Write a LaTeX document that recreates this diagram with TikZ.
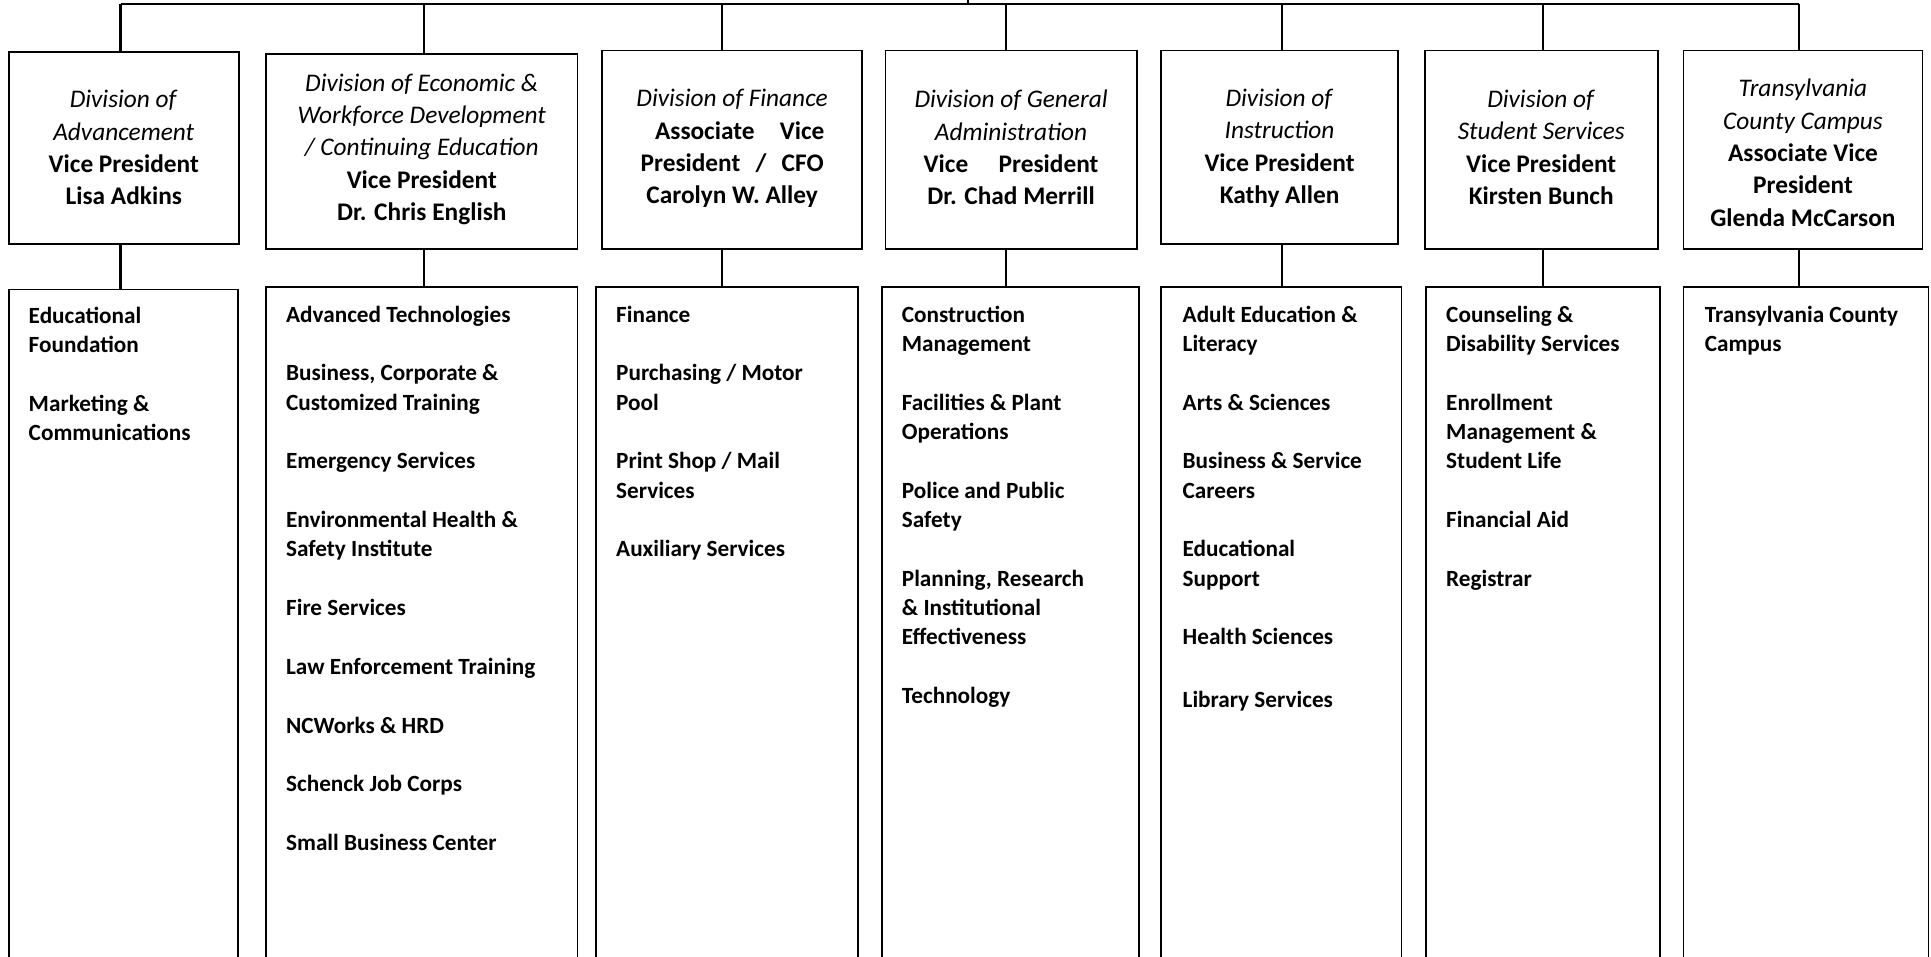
\documentclass[tikz,border=0pt]{standalone}
\usepackage{fontspec}
\setmainfont{Carlito}
\usetikzlibrary{fit}
\begin{document}
\begin{tikzpicture}[x=0.5833pt,y=-0.5833pt,
  headbox/.style={draw, line width=0.85pt, inner sep=0pt},
  headtext/.style={inner sep=0pt, align=center, font=\fontsize{12}{15.3}\selectfont},
  subbox/.style={draw, line width=0.85pt, inner sep=0pt},
  items/.style={anchor=north west, inner sep=0pt, align=left, font=\bfseries\fontsize{11}{13.9}\selectfont},
  conn/.style={line width=0.85pt},
  thickconn/.style={line width=1.7pt},
]
\useasboundingbox (0,0) rectangle (1568,777);
\clip (0,0) rectangle (1568,777);

% head boxes
\node[headbox, fit={(7,42) (194,198)}] (h1) {};
\node[headbox, fit={(216,44) (469,202)}] (h2) {};
\node[headbox, fit={(489,41) (700,202)}] (h3) {};
\node[headbox, fit={(719,41) (923,202)}] (h4) {};
\node[headbox, fit={(943,41) (1135,198)}] (h5) {};
\node[headbox, fit={(1157,41) (1346,202)}] (h6) {};
\node[headbox, fit={(1367,41) (1561,202)}] (h7) {};

\node[headtext] (ht1) at (h1.center) {\textit{Division of}\\\textit{Advancement}\\\textbf{Vice President}\\\textbf{Lisa Adkins}};
\node[headtext, yshift=1pt] (ht2) at (h2.center) {\textit{Division of Economic \&}\\\textit{Workforce Development}\\\textit{/ Continuing Education}\\\textbf{Vice President}\\\textbf{Dr. Chris English}};
\node[headtext, yshift=0.5pt] (ht3) at (h3.center) {\textit{Division of Finance}\\\textbf{\hspace{0.6em}Associate\hspace{1em}Vice}\\\textbf{President\hspace{0.6em}/\hspace{0.6em}CFO}\\\textbf{Carolyn W. Alley}};
\node[headtext, yshift=1pt] (ht4) at (h4.center) {\textit{Division of General}\\\textit{Administration}\\\textbf{Vice\hspace{1.2em}President}\\\textbf{Dr. Chad Merrill}};
\node[headtext, yshift=-0.5pt] (ht5) at (h5.center) {\textit{Division of}\\\textit{Instruction}\\\textbf{Vice President}\\\textbf{Kathy Allen}};
\node[headtext, yshift=1pt] (ht6) at (h6.center) {\textit{Division of}\\\textit{Student Services}\\\textbf{Vice President}\\\textbf{Kirsten Bunch}};
\node[headtext, yshift=-1.5pt] (ht7) at (h7.center) {\textit{Transylvania}\\\textit{County Campus}\\\textbf{Associate Vice}\\\textbf{President}\\\textbf{Glenda McCarson}};

% lower boxes
\node[subbox, fit={(7,235) (193,820)}] (l1) {};
\node[subbox, fit={(216,233) (469,820)}] (l2) {};
\node[subbox, fit={(484,233) (697,820)}] (l3) {};
\node[subbox, fit={(716,233) (925,820)}] (l4) {};
\node[subbox, fit={(943,233) (1138,820)}] (l5) {};
\node[subbox, fit={(1158,233) (1348,820)}] (l6) {};
\node[subbox, fit={(1367,233) (1566,820)}] (l7) {};

% item lists
\node[items] (t1) at (23,249) {Educational\\Foundation\\[13.9pt]Marketing \&\\Communications};
\node[items] (t2) at (232,248) {Advanced Technologies\\[13.9pt]Business, Corporate \&\\Customized Training\\[13.9pt]Emergency Services\\[13.9pt]Environmental Health \&\\Safety Institute\\[13.9pt]Fire Services\\[13.9pt]Law Enforcement Training\\[13.9pt]NCWorks \& HRD\\[13.9pt]Schenck Job Corps\\[13.9pt]Small Business Center};
\node[items] (t3) at (500,248) {Finance\\[13.9pt]Purchasing / Motor\\Pool\\[13.9pt]Print Shop / Mail\\Services\\[13.9pt]Auxiliary Services};
\node[items] (t4) at (732,248) {Construction\\Management\\[13.9pt]Facilities \& Plant\\Operations\\[13.9pt]Police and Public\\Safety\\[13.9pt]Planning, Research\\\& Institutional\\Effectiveness\\[13.9pt]Technology};
\node[items] (t5) at (960,248) {Adult Education \&\\Literacy\\[13.9pt]Arts \& Sciences\\[13.9pt]Business \& Service\\Careers\\[13.9pt]Educational\\Support\\[13.9pt]Health Sciences\\[15.5pt]Library Services};
\node[items] (t6) at (1174,248) {Counseling \&\\Disability Services\\[13.9pt]Enrollment\\Management \&\\Student Life\\[13.9pt]Financial Aid\\[13.9pt]Registrar};
\node[items] (t7) at (1384,248) {Transylvania County\\Campus};

% bus
\coordinate (up) at (786,-10);
\coordinate (b0) at (786,3);
\coordinate (b1) at (98,3);
\coordinate (b2) at (344,3);
\coordinate (b3) at (586,3);
\coordinate (b4) at (817,3);
\coordinate (b5) at (1041,3);
\coordinate (b6) at (1253,3);
\coordinate (b7) at (1461,3);
\draw[conn] (up) -- (b0);
\draw[conn] (b1) -- (b7);

\draw[thickconn] (b1) -- (h1.north -| b1);
\draw[thickconn] (h1.south -| b1) -- (l1.north -| b1);
\foreach \i in {2,...,7} {
  \draw[conn] (b\i) -- (h\i.north -| b\i);
  \draw[conn] (h\i.south -| b\i) -- (l\i.north -| b\i);
}
\end{tikzpicture}
\end{document}
